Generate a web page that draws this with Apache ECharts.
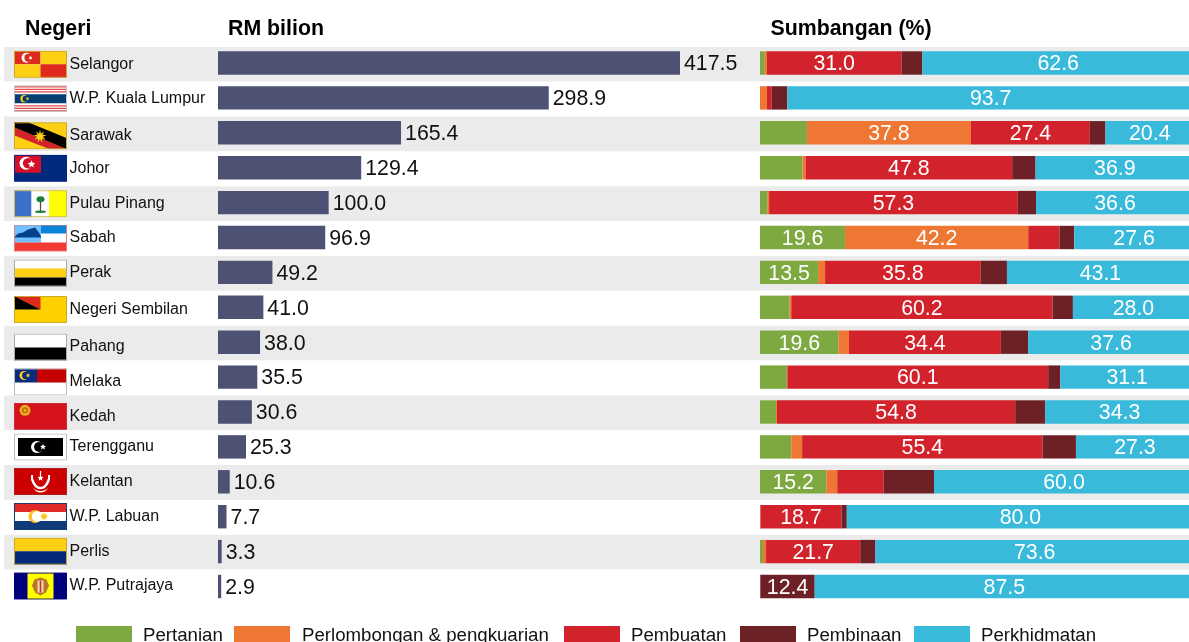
<!DOCTYPE html>
<html>
<head>
<meta charset="utf-8">
<style>html,body{margin:0;padding:0;background:#fff;overflow:hidden}#c{width:1189px;height:642px}</style>
<script src="https://cdn.jsdelivr.net/npm/echarts@6/dist/echarts.min.js"></script>
</head>
<body>
<div id="c"></div>
<script>
const states = ['Selangor','W.P. Kuala Lumpur','Sarawak','Johor','Pulau Pinang','Sabah','Perak','Negeri Sembilan','Pahang','Melaka','Kedah','Terengganu','Kelantan','W.P. Labuan','Perlis','W.P. Putrajaya'];
const rmBilion = [417.5,298.9,165.4,129.4,100.0,96.9,49.2,41.0,38.0,35.5,30.6,25.3,10.6,7.7,3.3,2.9];
const pertanian    = [1.1,0,10.8,9.8,1.7,19.6,13.4,6.8,18.1,6.2,3.7,7.2,15.3,0,0.7,0];
const perlombongan = [0.5,1.6,37.8,0.7,0.4,42.2,1.6,0.4,2.4,0.1,0.2,2.5,2.5,0.1,0.7,0];
const pembuatan    = [31.0,1.1,27.4,47.6,57.3,7.2,35.8,60.2,35.0,60.1,54.9,55.4,10.7,18.7,21.7,0.1];
const pembinaan    = [4.8,3.6,3.6,5.4,4.2,3.4,6.1,4.7,6.3,2.8,6.9,7.7,11.6,1.2,3.5,12.5];
const perkhidmatan = [62.6,93.7,20.4,36.5,36.6,27.6,43.1,28.0,38.2,31.1,34.3,27.3,60.0,80.0,73.6,87.5];
// Figures printed on the segments (null = the segment carries no figure)
const pertanianLabels    = [null,null,null,null,null,'19.6','13.5',null,'19.6',null,null,null,'15.2',null,null,null];
const perlombonganLabels = [null,null,'37.8',null,null,'42.2',null,null,null,null,null,null,null,null,null,null];
const pembuatanLabels    = ['31.0',null,'27.4','47.8','57.3',null,'35.8','60.2','34.4','60.1','54.8','55.4',null,'18.7','21.7',null];
const pembinaanLabels    = [null,null,null,null,null,null,null,null,null,null,null,null,null,null,null,'12.4'];
const perkhidmatanLabels = ['62.6','93.7','20.4','36.9','36.6','27.6','43.1','28.0','37.6','31.1','34.3','27.3','60.0','80.0','73.6','87.5'];

// Layout helpers kept apart from the data
const rowShift = [0,-0.5,1.8,-0.6,0,-0.5,-0.4,1.2,3.9,4,3.5,-0.7,-1,-1,-1,-1];
const legendNames = ['Pertanian','Perlombongan & pengkuarian','Pembuatan','Pembinaan','Perkhidmatan'];
const legendLeft = [76,234,564,740,914];
const C = {green:'#7ea941',orange:'#ee7733',red:'#d2222b',dark:'#6e2027',blue:'#39bada',bar:'#4d5275',stripe:'#ebebeb'};

function star(cx,cy,r,n,fill){let p=[];for(let i=0;i<n*2;i++){const a=-Math.PI/2+i*Math.PI/n,q=i%2?r*0.45:r;p.push((cx+q*Math.cos(a)).toFixed(1)+','+(cy+q*Math.sin(a)).toFixed(1));}return `<polygon points="${p.join(' ')}" fill="${fill}"/>`;}
function cres(cx,cy,r,fg,bg,dx){return `<circle cx="${cx}" cy="${cy}" r="${r}" fill="${fg}"/><circle cx="${cx+(dx||r*0.32)}" cy="${cy}" r="${r*0.82}" fill="${bg}"/>`;}
function R(x,y,w,h,f){return `<rect x="${x}" y="${y}" width="${w}" height="${h}" fill="${f}"/>`;}
const flagArt = [
 R(0,0,26.5,13.5,'#dd2a1c')+R(26.5,0,26.5,13.5,'#fdd015')+R(0,13.5,26.5,13.5,'#fdd015')+R(26.5,13.5,26.5,13.5,'#dd2a1c')+cres(12.5,7,5,'#fff','#dd2a1c',2)+star(16.5,7,2.2,6,'#fff'),
 R(0,0,53,27,'#fff')+[1,3.5,6].map(y=>R(0,y,53,1.3,'#e2474a')).join('')+[20,22.5,25].map(y=>R(0,y,53,1.3,'#e2474a')).join('')+R(0,9,53,9,'#063e73')+cres(10,13.5,3.6,'#fdd015','#063e73',1.5)+star(13.5,13.5,2,8,'#fdd015'),
 R(0,0,53,27,'#fdd015')+'<polygon points="0,5 53,27 36,27 0,13" fill="#d2222b"/><polygon points="0,0 14,0 53,16 53,27 0,5" fill="#000"/>'+star(26,14,6.5,9,'#fdd015'),
 R(0,0,53,27,'#012a7f')+R(0,0,27,18,'#d2102a')+cres(12,8.5,6.5,'#fff','#d2102a',2.2)+star(17.5,9.5,4,5,'#fff'),
 R(0,0,17.5,27,'#3c70c9')+R(17.5,0,17.5,27,'#fff')+R(35,0,18,27,'#ffff00')+R(25.9,9,1.2,12,'#5a4a20')+'<ellipse cx="26.5" cy="9" rx="4" ry="3" fill="#1f7d3a"/><ellipse cx="26.5" cy="21.5" rx="5.5" ry="1.2" fill="#1f7d3a"/>',
 R(0,0,53,27,'#fff')+R(0,0,27,18,'#6fc1ff')+R(27,0,26,9,'#0a84d8')+R(0,18,53,9,'#f23a32')+'<polygon points="0,13 4,9 9,8 14,5 21,3 25,8 27,12 27,13" fill="#06408c"/>',
 R(0,0,53,9,'#fff')+R(0,9,53,9,'#fdd015')+R(0,18,53,9,'#000'),
 R(0,0,53,27,'#ffd000')+'<polygon points="0,0 26.5,0 26.5,13.5" fill="#dd2a1c"/><polygon points="0,0 26.5,13.5 0,13.5" fill="#000"/>',
 R(0,0,53,14,'#fff')+R(0,14,53,13,'#000'),
 R(0,0,53,27,'#fff')+R(23,0,30,14,'#c40000')+R(0,0,23,14,'#0a2a7f')+cres(10,7,4.5,'#fdd015','#0a2a7f',1.8)+star(14,7,2.4,5,'#fdd015'),
 R(0,0,53,27,'#d5121e')+`<circle cx="11" cy="7.5" r="5.5" fill="#e8b020"/><circle cx="11" cy="7.5" r="3" fill="#c76a10"/>`+star(11,7.5,1.8,5,'#fdd015'),
 R(0,0,53,27,'#fff')+R(4,4.5,45,18,'#000')+cres(23,13.5,6,'#fff','#000',2)+star(29,13.5,3.2,5,'#fff'),
 R(0,0,53,27,'#cc0000')+`<path d="M18 11c2 6 5 9 8.500 9s6.500-3 8.500-9" fill="none" stroke="#fff" stroke-width="2.500"/><path d="M19 20c2 3 4.500 4.500 7.500 4.500s5.500-1.500 7.500-4.500c-2 2-4.500 3-7.500 3s-5.500-1-7.500-3z" fill="#fff"/>`+star(26.5,10,3.2,5,'#fff')+R(25.900,3,1.2,5,'#fff')+R(17,7,2,5,'#fff')+R(34,7,2,5,'#fff'),
 R(0,0,53,9,'#e02a2a')+R(0,9,53,9,'#fff')+R(0,18,53,9,'#103a78')+cres(21,13.5,6.5,'#fdc020','#fff',2.2)+star(30,13.5,4.5,11,'#fdc020'),
 R(0,0,53,13.5,'#fdd015')+R(0,13.5,53,13.5,'#04297a'),
 R(0,0,53,27,'#00007f')+R(13.500,0,26,27,'#ffff00')+`<path d="M26.500 5l6 2 2.500 6-3 7-5.500 3-5.500-3-3-7 2.500-6z" fill="#b9772c"/><rect x="23.500" y="8" width="6" height="12" fill="#e9d9b0"/><rect x="25.700" y="8" width="1.600" height="12" fill="#c32"/>`
];
const flagBorder = ['#c9a830','#c4c4c4','#c9a830','#012a7f','#d0bc4a','#e08080','#aaaaaa','#c9a830','#aaaaaa','#bbbbbb','#c83038','#bbbbbb','#b02020','#103a78','#c9a830','#00007f'];
const flagUrl = flagArt.map((art,i)=>'data:image/svg+xml;charset=utf-8,'+encodeURIComponent(
 `<svg xmlns="http://www.w3.org/2000/svg" width="53" height="27" viewBox="0 0 53 27">${art}<rect x=".5" y=".5" width="52" height="26" fill="none" stroke="${flagBorder[i]}"/></svg>`));

const FONT = 'Liberation Sans';
const rich = {n:{fontFamily:FONT,fontSize:16,color:'#111',padding:[0,0,0,2.5]}};
flagUrl.forEach((u,i)=>{rich['f'+i]={width:53,height:27,backgroundColor:{image:u}};});

const rowCats = states.map((s,i)=>{
  const d = rowShift[i];
  return {value:s,textStyle:{padding: d>=0 ? [2*d,0,0,0] : [0,0,-2*d,0]}};
});
function segment(name,values,labels,color){
  return {
    name,type:'bar',xAxisIndex:2,yAxisIndex:2,stack:'share',barWidth:23.4,
    itemStyle:{color},emphasis:{disabled:true},silent:true,animation:false,
    label:{show:true,position:'inside',offset:[0,1.5],color:'#fff',fontFamily:FONT,fontSize:21.33,
      formatter:p=>labels[p.dataIndex]===null?'':labels[p.dataIndex]},
    data:values
  };
}
const titleStyle = {fontFamily:FONT,fontSize:21.33,fontWeight:'bold',color:'#000'};
const chart = echarts.init(document.getElementById('c'),null,{renderer:'canvas'});
chart.setOption({
  animation:false,
  backgroundColor:'#fff',
  title:[
    {text:'Negeri',left:25,top:19,padding:0,textStyle:titleStyle},
    {text:'RM bilion',left:228,top:19,padding:0,textStyle:titleStyle},
    {text:'Sumbangan (%)',left:770.5,top:19,padding:0,textStyle:titleStyle}
  ],
  legend:legendNames.map((n,i)=>({
    left:legendLeft[i],top:626,padding:0,itemWidth:56,itemHeight:20,icon:'rect',selectedMode:false,
    textStyle:{fontFamily:FONT,fontSize:18.67,color:'#111',padding:[0,0,0,i===1?7:6]},
    data:[n]
  })),
  grid:[
    {left:4,top:46.9,width:1185,height:557.6,outerBoundsMode:'none'},
    {left:218,top:45.55,width:462,height:558.4,outerBoundsMode:'none'},
    {left:760,top:45.55,width:434,height:558.4,outerBoundsMode:'none'}
  ],
  xAxis:[
    {gridIndex:0,type:'value',min:0,max:1,show:false},
    {gridIndex:1,type:'value',min:0,max:417.5,show:false},
    {gridIndex:2,type:'value',min:0,max:100,show:false}
  ],
  yAxis:[
    {gridIndex:0,type:'category',inverse:true,data:rowCats,
      axisLine:{show:false},axisTick:{show:false},splitLine:{show:false},
      splitArea:{show:true,interval:0,areaStyle:{color:[C.stripe,'#fff']}},
      axisLabel:{show:true,interval:0,inside:true,margin:10,align:'left',
        formatter:(v)=>{const i=states.indexOf(v);return `{f${i}|}{n|${v}}`;},rich}},
    {gridIndex:1,type:'category',inverse:true,data:states,show:false},
    {gridIndex:2,type:'category',inverse:true,data:states,show:false}
  ],
  series:[
    {type:'bar',name:'RM bilion',xAxisIndex:1,yAxisIndex:1,barWidth:23.4,silent:true,
      itemStyle:{color:C.bar},
      label:{show:true,position:'right',distance:4,offset:[0,1.5],color:'#111',fontFamily:FONT,fontSize:21.33,formatter:p=>p.value.toFixed(1)},
      data:rmBilion},
    segment('Pertanian',pertanian,pertanianLabels,C.green),
    segment('Perlombongan & pengkuarian',perlombongan,perlombonganLabels,C.orange),
    segment('Pembuatan',pembuatan,pembuatanLabels,C.red),
    segment('Pembinaan',pembinaan,pembinaanLabels,C.dark),
    segment('Perkhidmatan',perkhidmatan,perkhidmatanLabels,C.blue)
  ]
});
</script>
</body>
</html>
